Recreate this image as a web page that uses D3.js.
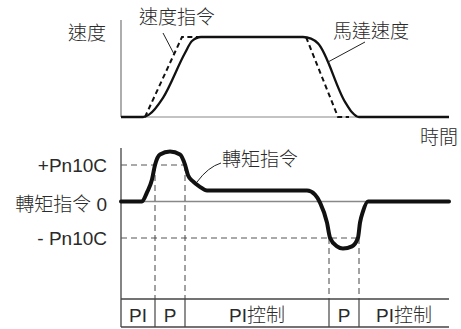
<!DOCTYPE html>
<html><head><meta charset="utf-8">
<script src="https://cdn.jsdelivr.net/npm/d3@7"></script>
<style>
html,body{margin:0;padding:0;background:#fff;}
svg{display:block;}
text{font-family:"Liberation Sans","Noto Sans CJK TC",sans-serif;fill:#2a2a2a;font-size:19px;font-weight:300;}
</style></head>
<body>
<svg id="c" width="461" height="329"></svg>
<script>
// time axis units (0..328)
const timeDomain = [0, 328];
// speed command (dashed)
const speedCmd = [[24,0],[61,100],[185,100],[217,0],[228,0]];
// motor speed (solid)
const motorSpeed = [[0,0],[22,0],[28,3],[42,24],[64,80],[71,95],[80,100],[182,100],[190,98],[197,92],[224,19],[231,6],[238,0],[328,0]];
// torque command
const torque = [[0,0],[21,0],[26,25],[31,60],[34,100],[39,129],[49,137],[59,129],[64,101],[67,72],[72,55],[79,40],[86,30],[186,30],[194,19],[199,-3],[206,-58],[209,-99],[216,-123],[222,-129],[231,-123],[237,-99],[239,-58],[242,-27],[247,0],[328,0]];
// control phases
const phaseLabels = ["PI","P","PI控制","P","PI控制"];
const phaseBounds = [0,34,64,208,238,328];
const torqueLevels = [{v:100,label:"+Pn10C",end:64},{v:0,label:"轉矩指令 0"},{v:-100,label:"- Pn10C",end:238}];

const svg = d3.select("#c");
const x = d3.scaleLinear().domain(timeDomain).range([121,449]);
const yS = d3.scaleLinear().domain([0,100]).range([117,37]);
const yT = d3.scaleLinear().domain([-100,100]).range([238,165]);
const tableTop = 299, tableBot = 327;

// ---------- top speed chart ----------
svg.append("line").attr("x1",x(0)).attr("x2",x(0)).attr("y1",20).attr("y2",yS(0))
  .attr("stroke","#777").attr("stroke-width",1.2);
svg.append("line").attr("x1",x(0)).attr("x2",x(328)).attr("y1",yS(0)).attr("y2",yS(0))
  .attr("stroke","#888").attr("stroke-width",1.2);

const lineS = d3.line().x(d=>x(d[0])).y(d=>yS(d[1]));
svg.append("path").attr("d",lineS(speedCmd)).attr("fill","none")
  .attr("stroke","#111").attr("stroke-width",2).attr("stroke-dasharray","5,3.5");
svg.append("path").attr("d",lineS.curve(d3.curveMonotoneX)(motorSpeed)).attr("fill","none")
  .attr("stroke","#111").attr("stroke-width",2.3);

svg.append("text").attr("x",68).attr("y",40).text("速度");
svg.append("text").attr("x",139).attr("y",24).text("速度指令");
svg.append("line").attr("x1",163).attr("y1",33).attr("x2",174).attr("y2",54).attr("stroke","#222").attr("stroke-width",1);
svg.append("text").attr("x",333).attr("y",38).text("馬達速度");
svg.append("line").attr("x1",365).attr("y1",42).attr("x2",328).attr("y2",62).attr("stroke","#222").attr("stroke-width",1);
svg.append("text").attr("x",420).attr("y",144).text("時間");

// ---------- bottom torque chart ----------
svg.append("line").attr("x1",x(0)).attr("x2",x(0)).attr("y1",148).attr("y2",tableBot)
  .attr("stroke","#333").attr("stroke-width",1.2);
svg.append("line").attr("x1",x(0)).attr("x2",x(328)).attr("y1",yT(0)).attr("y2",yT(0))
  .attr("stroke","#888").attr("stroke-width",1.3);

torqueLevels.filter(d=>d.end).forEach(d=>{
  svg.append("line").attr("x1",x(0)).attr("x2",x(d.end)).attr("y1",yT(d.v)).attr("y2",yT(d.v))
    .attr("stroke","#555").attr("stroke-width",1).attr("stroke-dasharray","6,4");
});
// vertical dashed guides
[[1,100],[2,100],[3,-100],[4,-100]].forEach(([i,v])=>{
  svg.append("line").attr("x1",x(phaseBounds[i])).attr("x2",x(phaseBounds[i]))
    .attr("y1",yT(v)).attr("y2",tableTop)
    .attr("stroke","#444").attr("stroke-width",1).attr("stroke-dasharray","6,4");
});

const lineT = d3.line().x(d=>x(d[0])).y(d=>yT(d[1])).curve(d3.curveMonotoneX);
svg.append("path").attr("d",lineT(torque)).attr("fill","none")
  .attr("stroke","#111").attr("stroke-width",4).attr("stroke-linecap","round").attr("stroke-linejoin","round");

const baselines = {"100":172,"0":211,"-100":245};
torqueLevels.forEach(d=>{
  svg.append("text").attr("x",107).attr("y",baselines[d.v]).attr("text-anchor","end").text(d.label);
});
svg.append("text").attr("x",222).attr("y",166).text("轉矩指令");
svg.append("path").attr("d","M221,163 Q208,167 197,182").attr("fill","none").attr("stroke","#222").attr("stroke-width",1);

// ---------- phase table ----------
[tableTop,tableBot].forEach(yy=>{
  svg.append("line").attr("x1",x(0)).attr("x2",x(328)).attr("y1",yy).attr("y2",yy)
    .attr("stroke","#444").attr("stroke-width",1.3);
});
phaseBounds.slice(1,-1).forEach(b=>{
  svg.append("line").attr("x1",x(b)).attr("x2",x(b)).attr("y1",tableTop).attr("y2",tableBot)
    .attr("stroke","#444").attr("stroke-width",1.2);
});
phaseLabels.forEach((l,i)=>{
  svg.append("text").attr("x",(x(phaseBounds[i])+x(phaseBounds[i+1]))/2).attr("y",322)
    .attr("text-anchor","middle").text(l);
});
</script>
</body></html>
